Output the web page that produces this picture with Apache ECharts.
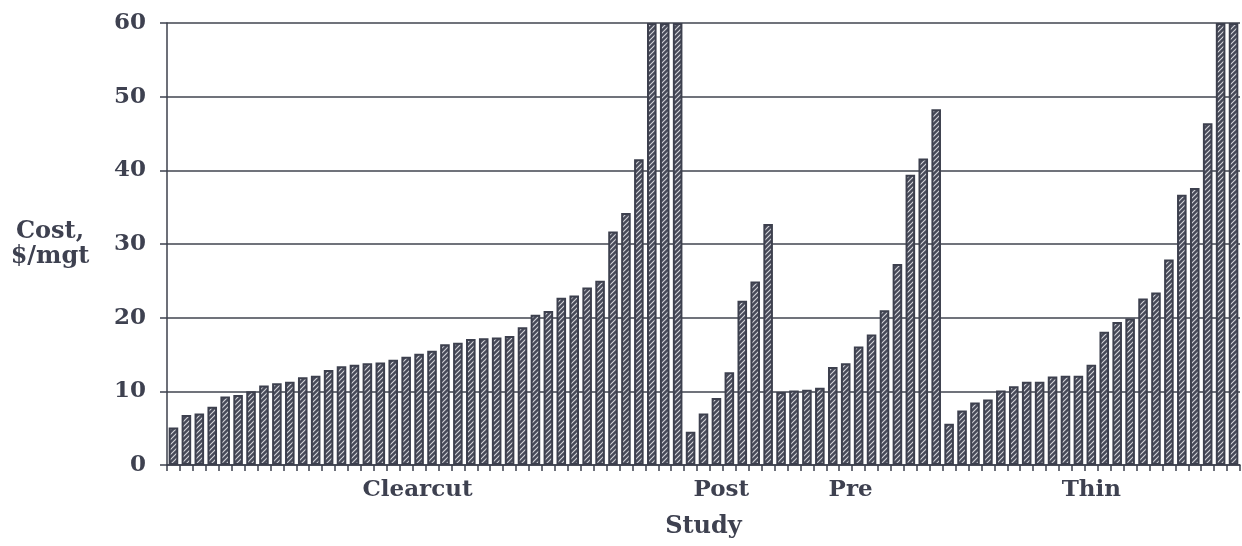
<!DOCTYPE html>
<html><head><meta charset="utf-8">
<script src="https://cdn.jsdelivr.net/npm/echarts@6/dist/echarts.min.js"></script>
<style>html,body{margin:0;padding:0;background:#fff}#c{width:1242px;height:546px}</style>
</head><body><div id="c"></div>
<script>
// Data (bars clipped at the top of the axis are shown as 60)
const groupNames = ['Clearcut', 'Post', 'Pre', 'Thin'];
const clearcut = [5.1,6.8,7.0,7.9,9.3,9.5,10.0,10.8,11.1,11.3,11.9,12.1,12.9,13.4,13.6,13.8,13.9,14.3,14.7,15.1,15.5,16.4,16.6,17.1,17.2,17.3,17.5,18.7,20.4,20.9,22.7,23.0,24.1,25.0,31.7,34.2,41.5,60,60,60];
const post = [4.5,7.0,9.1,12.6,22.3,24.9,32.7];
const pre = [9.9,10.1,10.2,10.5,13.3,13.8,16.1,17.7,21.0,27.3,39.4,41.6,48.3];
const thin = [5.6,7.4,8.5,8.9,10.1,10.7,11.3,11.3,12.0,12.1,12.1,13.6,18.1,19.4,19.9,22.6,23.4,27.9,36.7,37.6,46.4,60,60];
const yTicks = [0,10,20,30,40,50,60];

const groups = [clearcut, post, pre, thin];
const categories = [], values = [], groupCenters = [], centerName = {};
let start = 0;
groups.forEach((g, gi) => {
  g.forEach((v, i) => { categories.push(groupNames[gi] + ' ' + (i + 1)); values.push(v); });
  const c = start + g.length / 2;
  groupCenters.push(c); centerName[c] = groupNames[gi];
  start += g.length;
});
const total = values.length;

function hatch() {
  const s = 5, c = document.createElement('canvas');
  c.width = s; c.height = s;
  const g = c.getContext('2d');
  g.fillStyle = '#474a59'; g.fillRect(0, 0, s, s);
  g.strokeStyle = '#d4d5db'; g.lineWidth = 1.1;
  g.beginPath();
  g.moveTo(0, s); g.lineTo(s, 0);
  g.moveTo(-s, s); g.lineTo(s, -s);
  g.moveTo(0, 2*s); g.lineTo(2*s, 0);
  g.stroke();
  return c;
}

const txt = '#3e4150';
const font = 'DejaVu Serif';
const chart = echarts.init(document.getElementById('c'), null, {renderer: 'canvas'});
chart.setOption({
  animation: false,
  backgroundColor: '#ffffff',
  grid: {left: 167, right: 2, top: 23, bottom: 81, containLabel: false},
  xAxis: [{
    type: 'category', data: categories, boundaryGap: true,
    axisLine: {lineStyle: {color: '#3d404d', width: 1.5}},
    axisTick: {show: true, length: 6, interval: 0, lineStyle: {color: '#3d404d', width: 1.5}},
    axisLabel: {show: false},
    splitLine: {show: false}
  }, {
    type: 'value', min: 0, max: total, position: 'bottom',
    axisLine: {show: false}, axisTick: {show: false}, splitLine: {show: false},
    axisLabel: {
      show: true, customValues: groupCenters, margin: 14,
      formatter: v => {
        const n = centerName[v] || '';
        return n === 'Thin' ? '{b|' + n + '}' : '{a|' + n + '}';
      },
      color: txt, fontFamily: font, fontWeight: 'bold', fontSize: 23,
      rich: {
        a: {color: txt, fontFamily: font, fontWeight: 'bold', fontSize: 23, padding: [0, 16, 0, 0]},
        b: {color: txt, fontFamily: font, fontWeight: 'bold', fontSize: 23}
      }
    },
    name: 'Study', nameLocation: 'middle', nameGap: 50,
    nameTextStyle: {color: txt, fontFamily: font, fontWeight: 'bold', fontSize: 24}
  }],
  yAxis: {
    type: 'value', min: yTicks[0], max: yTicks[yTicks.length - 1], interval: 10,
    axisLine: {show: true, lineStyle: {color: '#3d404d', width: 1.5}},
    axisTick: {show: true, length: 7, lineStyle: {color: '#3d404d', width: 1.5}},
    axisLabel: {margin: 21, color: txt, fontFamily: font, fontWeight: 'bold', fontSize: 23},
    splitLine: {show: true, lineStyle: {color: '#41444f', width: 1.6}},
    name: 'Cost,\n$/mgt', nameLocation: 'middle', nameRotate: 0, nameGap: 117,
    nameTextStyle: {color: txt, fontFamily: font, fontWeight: 'bold', fontSize: 24, align: 'center', lineHeight: 25}
  },
  series: [{
    type: 'bar', xAxisIndex: 0, data: values, barCategoryGap: '26%',
    itemStyle: {color: {image: hatch(), repeat: 'repeat'}, borderColor: '#3d404e', borderWidth: 2},
    clip: true
  }]
});
</script></body></html>
